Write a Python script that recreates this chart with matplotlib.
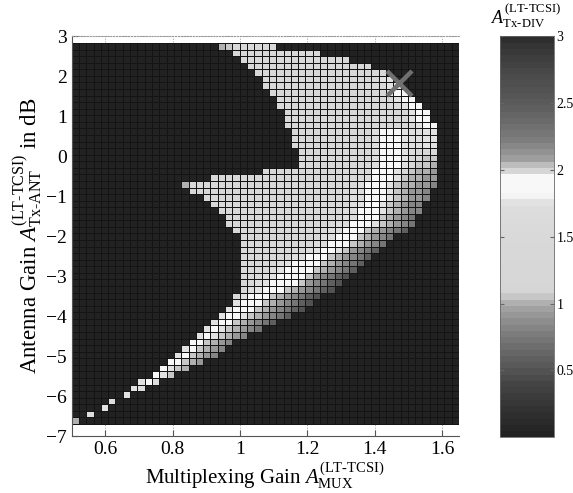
import numpy as np
import matplotlib
matplotlib.use("Agg")
import matplotlib.pyplot as plt
from matplotlib.colors import LinearSegmentedColormap

plt.rcParams['font.family'] = ['Liberation Serif', 'DejaVu Serif']
plt.rcParams['mathtext.fontset'] = 'custom'
plt.rcParams['mathtext.rm'] = 'Liberation Serif'
plt.rcParams['mathtext.it'] = 'Liberation Serif:italic'

# cell grid of the map
x_lo, x_hi, n_cols = 0.5, 1.65, 53
y_lo, y_hi, n_rows = -6.70, 2.83, 58

# grey tone codes seen in the cells -> value of A_Tx-DIV
level = {'.': 0.0, '1': 0.5, '2': 0.6, '3': 0.72, '4': 0.82, '5': 0.92,
         '6': 1.0, 'a': 1.06, '7': 1.4, '8': 1.7, '9': 1.78, 'w': 1.9}

# per row (top row first): first lit column, then the lit cells
row_start = [20, 22, 23, 24, 25, 26, 26, 27, 28, 28, 29, 29, 29, 30, 30, 30,
             31, 31, 31, 26, 19, 15, 16, 18, 19, 20, 21, 21, 22, 23, 23, 23,
             23, 23, 23, 23, 23, 23, 22, 22, 21, 20, 19, 18, 17, 16, 15, 14,
             13, 12, 11, 9, 8, 7, 5, 4, 2, 0]
row_cells = [
    '6a' + '7' * 6,
    '7' * 12,
    '7' * 15,
    '7' * 17,
    '7' * 18,
    '7' * 16 + '99',
    '7' * 17 + '99',
    '7' * 16 + '9ww',
    '7' * 16 + '9ww',
    '7' * 17 + '9ww',
    '7' * 17 + '9ww',
    '7' * 17 + '9ww',
    '7' * 18 + '9ww',
    '7' * 11 + '8www98899',
    '7' * 11 + '8www98899',
    '7' * 11 + '8www98899',
    '7' * 10 + '8www98777',
    '7' * 10 + '8www977aa',
    '7' * 10 + '8www97aa6',
    '7' * 15 + 'www97a665',
    '7' * 21 + '8www9a6655',
    '6' + '7' * 23 + '8www9a66554',
    '7' * 22 + '88www9a6554',
    '7' * 20 + '88www9a6554',
    '7' * 19 + '89ww9a6544',
    '7' * 17 + '88www9a6544',
    '7' * 16 + '88wwwa6543',
    '7' * 15 + '88www9a6543',
    '7' * 13 + '88wwwa65432',
    '7' * 11 + '88wwwa6543',
    '7' * 10 + '88wwwa6543',
    '7' * 9 + '89ww9a5432',
    '7' * 7 + '88wwwa65432',
    '7' * 5 + '89wwwwa65432',
    '7' * 4 + '89wwwwa65432',
    '7' * 3 + '89wwwwa54321',
    '77' + '89wwwwa54321',
    '789wwwa654321',
    '79wwwa654321',
    '9wwwa654321',
    '9wwwa654321',
    '9ww9a65432',
    '9wwa65432',
    '9w9a6543',
    '9w9a654',
    'wwa654',
    '9wa654',
    '9wa654',
    'wwa65',
    'w9a6',
    'w9a',
    '9w8',
    '98',
    '9',
    '8',
    '9',
    '8',
    '6',
]

# grey ramp (value, grey 0..255)
cb_vals = [0.0, 0.1, 0.25, 0.4, 0.5, 0.6, 0.75, 0.85, 0.95, 1.0, 1.05, 1.1,
           1.5, 1.75, 1.8, 1.82, 1.96, 2.0, 2.05, 2.1, 2.25, 2.5, 2.75, 2.9, 3.0]
cb_grey = [34, 42, 56, 70, 86, 99, 122, 140, 160, 176, 200, 214,
           217, 222, 240, 248, 248, 214, 188, 155, 122, 92, 72, 58, 46]

marker_x, marker_y = 1.472, 1.83

x_ticks = [0.6, 0.8, 1.0, 1.2, 1.4, 1.6]
x_labels = ['0.6', '0.8', '1', '1.2', '1.4', '1.6']
y_ticks = list(range(-7, 4))
cb_ticks = [0.5, 1, 1.5, 2, 2.5, 3]
cb_labels = ['0.5', '1', '1.5', '2', '2.5', '3']

# build the value grid
Z = np.zeros((n_rows, n_cols))
for r, (s, cells) in enumerate(zip(row_start, row_cells)):
    Z[r, s:s + len(cells)] = [level[c] for c in cells]
Z = Z[::-1]

x_edges = np.linspace(x_lo, x_hi, n_cols + 1)
y_edges = np.linspace(y_lo, y_hi, n_rows + 1)

pos = np.array(cb_vals) / 3.0
cols = [(g / 255, g / 255, g / 255) for g in cb_grey]
cmap = LinearSegmentedColormap.from_list('tcsi', list(zip(pos, cols)), N=64)

fig = plt.figure(figsize=(5.73, 4.93), dpi=100)
ax = fig.add_axes([0.125, 0.1156, 0.676, 0.811])

ax.grid(True, linestyle=':', color='#999999', linewidth=0.7)
ax.set_axisbelow(True)
mesh = ax.pcolormesh(x_edges, y_edges, Z, cmap=cmap, vmin=0, vmax=3,
                     edgecolors='#141414', linewidth=0.4)
ax.plot(marker_x, marker_y, marker='x', ms=18, mew=3.2, color='#707070')

ax.set_xlim(0.5, 1.65)
ax.set_ylim(-7, 3)
ax.set_xticks(x_ticks)
ax.set_xticklabels(x_labels)
ax.set_yticks(y_ticks)
ax.set_yticklabels([str(v).replace('-', '\u2212') for v in y_ticks])
ax.tick_params(direction='in', length=4, labelsize=14, color='#555555')

for side in ['left', 'bottom']:
    ax.spines[side].set_color('#555555')
    ax.spines[side].set_linewidth(0.8)
ax.spines['right'].set_visible(False)
ax.spines['top'].set_linestyle(':')
ax.spines['top'].set_color('#999999')

ax.set_xlabel(r'Multiplexing Gain $A^{(\mathrm{LT\text{-}TCSI})}_{\mathrm{MUX}}$',
              fontsize=15, labelpad=2)
ax.set_ylabel(r'Antenna Gain $A^{(\mathrm{LT\text{-}TCSI})}_{\mathrm{Tx\text{-}ANT}}$ in dB',
              fontsize=16.5, labelpad=1)

cax = fig.add_axes([0.873, 0.113, 0.093, 0.813])
cb = fig.colorbar(mesh, cax=cax, ticks=cb_ticks)
cb.ax.set_yticklabels(cb_labels)
cb.ax.tick_params(labelsize=10, direction='in', length=3, left=True,
                  color='#666666', pad=2)
cb.outline.set_edgecolor('#666666')
cb.outline.set_linewidth(0.6)
fig.text(0.918, 0.94, r'$A^{(\mathrm{LT\text{-}TCSI})}_{\mathrm{Tx\text{-}DIV}}$',
         ha='center', va='bottom', fontsize=13)

fig.savefig('out.png', dpi=100)
